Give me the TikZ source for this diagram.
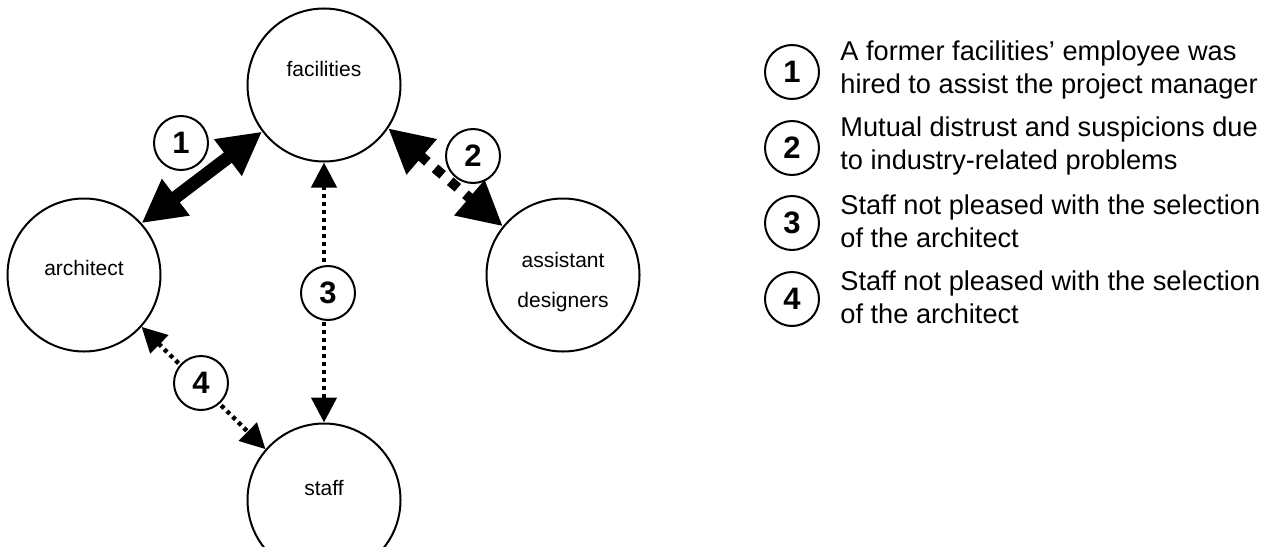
\documentclass[tikz,border=0pt]{standalone}
\usepackage{fontspec}
\setmainfont{Liberation Sans}
\usetikzlibrary{arrows.meta}

\begin{document}
\begin{tikzpicture}[x=0.5pt,y=-0.5pt]
    \tikzstyle{party}=[circle,draw,line width=1pt,minimum size=76.5pt,inner sep=0pt]
    \tikzstyle{partyname}=[align=center,inner sep=0pt,font=\fontsize{10.5}{20}\selectfont]
    \tikzstyle{num}=[circle,draw,fill=white,line width=1pt,minimum size=27pt,inner sep=0pt,font=\fontsize{15.5}{15.5}\selectfont\bfseries]
    \tikzstyle{note}=[anchor=west,align=left,inner sep=0pt,font=\fontsize{13.6}{16.5}\selectfont]
    \tikzstyle{strong}=[line width=6.5pt,{Triangle[length=21.5pt,width=21.5pt]}-{Triangle[length=21.5pt,width=21.5pt]}]
    \tikzstyle{tense}=[line width=5pt,dash pattern=on 5pt off 5pt,{Triangle[length=22pt,width=22pt]}-{Triangle[length=22pt,width=22pt]}]
    \tikzstyle{weak}=[line width=2.2pt,dash pattern=on 2pt off 2pt,{Triangle[length=12.5pt,width=12.5pt]}-{Triangle[length=12.5pt,width=12.5pt]}]
    \useasboundingbox (0,0) rectangle (1261,546);

    \node[party,label={[partyname,yshift=8pt]center:facilities}] (fac) at (324,85) {};
    \node[party,label={[partyname,yshift=3.5pt]center:architect}] (arch) at (84,275) {};
    \node[party,label={[partyname,yshift=-3.5pt]center:assistant\\designers}] (asst) at (563,275) {};
    \node[party,label={[partyname,yshift=6pt]center:staff}] (staff) at (324,500) {};

    \draw[strong] (arch.42) -- (fac.217);
    \draw[tense] (fac.-34) -- (asst.141);
    \draw[weak] (fac) -- (staff);
    \draw[weak] (arch.-42) -- (staff.139);

    \node[num] (n1) at (181,143) {1};
    \node[num] (n2) at (473,156) {2};
    \node[num] (n3) at (328,293) {3};
    \node[num] (n4) at (201,383) {4};

    \node[num] (k1) at (792,72) {1};
    \node[num] (k2) at (792,148) {2};
    \node[num] (k3) at (792,223) {3};
    \node[num] (k4) at (792,299) {4};
    \node[note] (t1) at (840,70) {A former facilities’ employee was\\hired to assist the project manager};
    \node[note] (t2) at (840,146) {Mutual distrust and suspicions due\\to industry-related problems};
    \node[note] (t3) at (840,221) {Staff not pleased with the selection\\of the architect};
    \node[note] (t4) at (840,297) {Staff not pleased with the selection\\of the architect};
\end{tikzpicture}
\end{document}
